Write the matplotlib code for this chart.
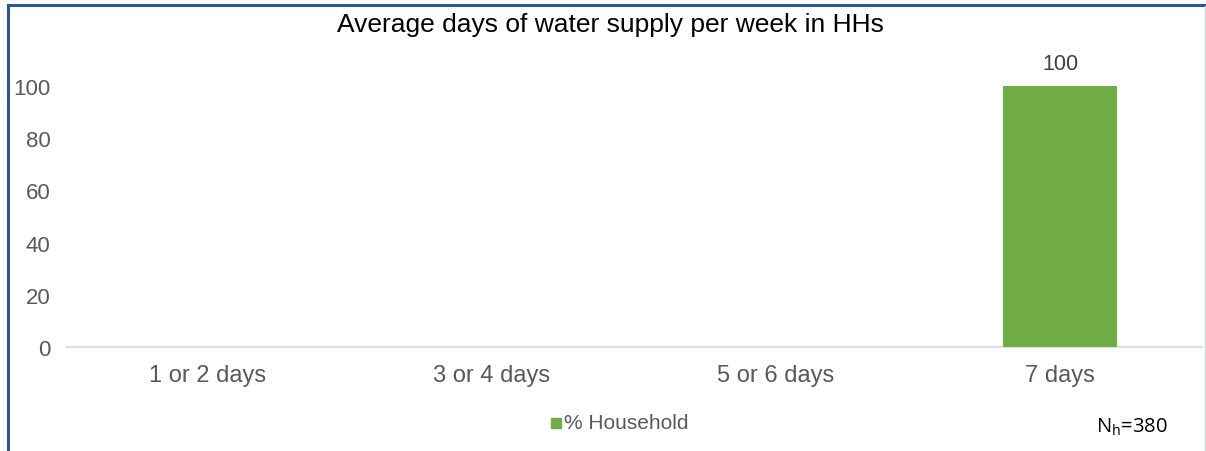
import matplotlib
matplotlib.use("Agg")
import matplotlib.pyplot as plt
from matplotlib.patches import Rectangle
from matplotlib.lines import Line2D

categories = ["1 or 2 days", "3 or 4 days", "5 or 6 days", "7 days"]
household_pct = [0, 0, 0, 100]
value_labels = ["", "", "", "100"]
yticks = [0, 20, 40, 60, 80, 100]

plt.rcParams['font.family'] = ['Liberation Sans', 'DejaVu Sans']

fig = plt.figure(figsize=(12.06, 4.52), dpi=100)
W, H = 1206, 452

def fx(p): return p / W
def fy(p): return 1 - p / H

ax = fig.add_axes([fx(66), fy(348), fx(1202) - fx(66), fy(61) - fy(348)])
x = range(len(categories))
bars = ax.bar(x, household_pct, width=0.4, color="#70AD47", zorder=3)
for xi, v, lab in zip(x, household_pct, value_labels):
    if lab:
        ax.text(xi, v + 4.5, lab, ha="center", va="bottom", fontsize=15.5, color="#404040")

ax.set_xlim(-0.5, len(categories) - 0.5)
ax.set_ylim(0, 110)
ax.set_yticks(yticks)
ax.set_yticklabels([str(t) for t in yticks], fontsize=16, color="#595959")
ax.set_xticks(list(x))
ax.set_xticklabels(categories, fontsize=17, color="#595959")
ax.tick_params(axis="both", length=0)
ax.tick_params(axis="y", pad=11)
ax.tick_params(axis="x", pad=12)
for s in ["top", "right", "left"]:
    ax.spines[s].set_visible(False)
ax.spines["bottom"].set_color("#D9D9D9")
ax.spines["bottom"].set_linewidth(1.2)

fig.text(fx(610), fy(25), "Average days of water supply per week in HHs",
         ha="center", va="center", fontsize=19, color="black")

# legend
fig.patches.append(Rectangle((fx(551), fy(429)), fx(10), fy(419) - fy(429),
                             transform=fig.transFigure, color="#70AD47"))
fig.text(fx(564), fy(424), "% Household", ha="left", va="center", fontsize=15, color="#595959")

fig.text(fx(1096), fy(427), r"N$_\mathregular{h}$=380", ha="left", va="center",
         fontsize=14.5, color="black", family="Open Sans")

# frame
fig.add_artist(Line2D([fx(8), fx(1205)], [fy(6), fy(6)], transform=fig.transFigure,
                      color="#2F5597", linewidth=2.2))
fig.add_artist(Line2D([fx(8), fx(8)], [fy(6), fy(452)], transform=fig.transFigure,
                      color="#2F5597", linewidth=2.2))
fig.add_artist(Line2D([fx(1205), fx(1205)], [fy(7), fy(452)], transform=fig.transFigure,
                      color="#D0D4DC", linewidth=1.0))

fig.savefig("out.png", dpi=100)
